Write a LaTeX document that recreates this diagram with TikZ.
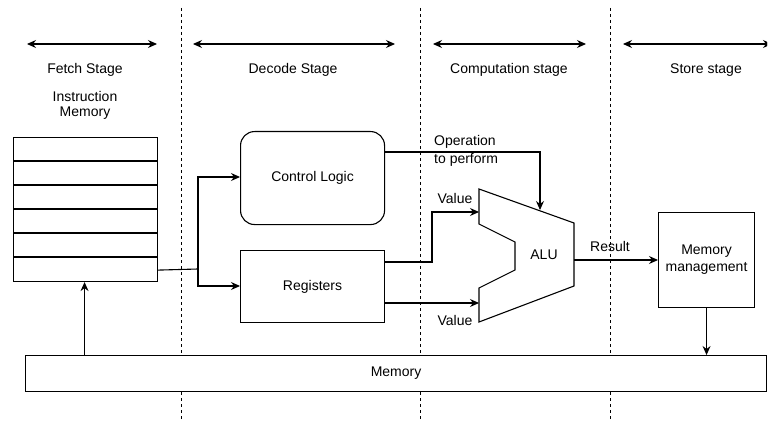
\documentclass[tikz,border=0pt]{standalone}
\usepackage{fontspec}
\setmainfont{Liberation Sans}
\usetikzlibrary{arrows.meta}
\begin{document}
\begin{tikzpicture}[x=1pt,y=-1pt,
  every node/.style={font=\fontsize{14}{16}\selectfont, inner sep=0pt},
  stagesep/.style={line width=0.9pt, dash pattern=on 3pt off 3pt},
  span/.style={line width=1.1pt, {Stealth[length=9pt,width=8pt,inset=3pt]}-{Stealth[length=9pt,width=8pt,inset=3pt]}},
  link/.style={line width=1.1pt, -{Stealth[length=9pt,width=8pt,inset=3pt]}},
  wire/.style={line width=1.1pt},
  lbl/.style={align=center},
]
\useasboundingbox (0,0) rectangle (769,425);

% stage separators
\foreach \x/\n in {181/sa,420/sb,610/sc}{
  \coordinate (\n top) at (\x,8);
  \coordinate (\n bot) at (\x,420);
  \draw[stagesep] (\n top) -- (\n bot);
}

% stage spans and titles
\coordinate (f1) at (27,44);  \coordinate (f2) at (157,44);
\coordinate (d1) at (193,44); \coordinate (d2) at (395,44);
\coordinate (c1) at (433,44); \coordinate (c2) at (586,44);
\coordinate (s1) at (623,44); \coordinate (s2) at (772,44);
\draw[span] (f1) -- (f2);
\draw[span] (d1) -- (d2);
\draw[span] (c1) -- (c2);
\begin{scope}
  \clip (0,0) rectangle (767,425);
  \draw[span] (s1) -- (s2);
\end{scope}
\node (tf) at (85,70) {Fetch Stage};
\node (td) at (293,70) {Decode Stage};
\node (tc) at (509,70) {Computation stage};
\node (ts) at (706,70) {Store stage};

% instruction memory
\node[lbl] (imlabel) at (85,105) {Instruction\\[-1pt]Memory};
\node[draw, line width=1.1pt, minimum width=144pt, minimum height=144pt, anchor=north west] (imem) at (13,137) {};
\foreach \i in {1,...,5}{
  \draw[wire] ([yshift=-24pt*\i]imem.north west) -- ([yshift=-24pt*\i]imem.north east);
}
\coordinate (imout) at ([yshift=12pt]imem.south east);

% decode blocks
\node[draw, line width=1.1pt, rounded corners=14pt, minimum width=144pt, minimum height=93pt, anchor=north west] (ctrl) at (240,131) {};
\node at (ctrl.center) {Control Logic};
\node[draw, line width=1.1pt, minimum width=144pt, minimum height=72pt, anchor=north west] (regs) at (240,250) {};
\node at (regs.center) {Registers};

% fan-out from instruction memory
\coordinate (split) at (198,269);
\draw[wire] (imout) -- (split);
\draw[link] (split) |- (ctrl.west |- 0,177);
\draw[link] (split) |- (regs.west |- 0,286);

% ALU
\draw[line width=1.1pt, line join=miter]
  (479,189) coordinate (alutl) -- (574,223) coordinate (alutr)
  -- (574,286) coordinate (alubr) -- (479,322) coordinate (alubl)
  -- (479,288) -- (515,270) -- (515,242) -- (479,224) -- cycle;
\node (alu) at (544,255) {ALU};
\coordinate (aluop) at (540,210);
\coordinate (aluin1) at (479,212);
\coordinate (aluin2) at (479,303);
\coordinate (aluout) at (574,260);

% operation select
\coordinate (ctrlout) at (ctrl.east |- 0,152);
\draw[link] (ctrlout) -| (aluop);
\node[anchor=west, align=left] (oplbl) at (434,151) {Operation\\[2pt]to perform};

% operands
\coordinate (regout1) at (regs.east |- 0,262);
\coordinate (regout2) at (regs.east |- 0,303);
\draw[link] (regout1) -- (432,262) |- (aluin1);
\draw[link] (regout2) -- (aluin2);
\node (v1) at (455,198) {Value};
\node (v2) at (455,320) {Value};

% store stage
\node[draw, line width=1.1pt, minimum width=96pt, minimum height=95pt, anchor=north west] (mm) at (658,212) {};
\node[lbl] (mmlbl) at (mm.center) {Memory\\[1pt]management};
\draw[link] (aluout) -- (mm.west |- aluout);
\node (res) at (610,246) {Result};

% main memory
\node[draw, line width=1.1pt, minimum width=741pt, minimum height=36pt, anchor=north west, fill=white] (mem) at (25,355) {};
\node at (mem.center) {Memory};
\draw[link] (mm.south) -- (mm.south |- mem.north);
\draw[link] (imem.south |- mem.north) ++(-1pt,0) coordinate (memtap) -- (memtap |- imem.south);
\end{tikzpicture}
\end{document}
